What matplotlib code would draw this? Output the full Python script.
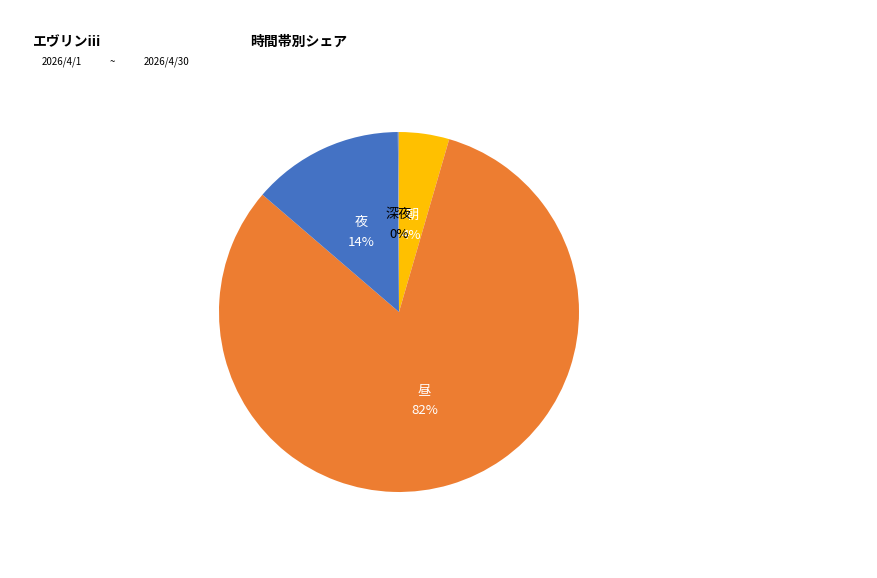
import matplotlib
matplotlib.use("Agg")
import matplotlib.pyplot as plt
import math

plt.rcParams['font.family'] = ['Noto Sans CJK JP', 'DejaVu Sans']

categories = ["朝", "昼", "夜", "深夜"]
values = [4.5, 81.8, 13.6, 0.1]
colors = ["#FFC000", "#ED7D31", "#4472C4", "#A5A5A5"]
label_colors = ["white", "white", "white", "black"]

fig = plt.figure(figsize=(8.77, 5.78), dpi=100)
ax = fig.add_axes([0.2497, 0.1488, 0.4105, 0.6228])

total = sum(values)
wedges, _ = ax.pie(values, colors=colors, startangle=90, counterclock=False,
                   radius=1.0, wedgeprops=dict(linewidth=0))
for w, cat, v, lc in zip(wedges, categories, values, label_colors):
    ang = math.radians((w.theta1 + w.theta2) / 2)
    r = 0.5
    x, y = r * math.cos(ang), r * math.sin(ang)
    pct = f"{round(v / total * 100)}%"
    ax.text(x, y + 0.041, cat, ha="center", va="center", color=lc, fontsize=9.5)
    ax.text(x, y - 0.069, pct, ha="center", va="center", color=lc, fontsize=9.5)
ax.set_xlim(-1, 1)
ax.set_ylim(-1, 1)
ax.set_aspect("auto")
ax.axis("off")

fig.text(33 / 877, 1 - 42 / 578, "エヴリンiii", fontsize=10, fontweight="bold", va="center", ha="left")
fig.text(250 / 877, 1 - 42 / 578, "時間帯別シェア", fontsize=10, fontweight="bold", va="center", ha="left")
fig.text(42 / 877, 1 - 62 / 578, "2026/4/1", fontsize=7, va="center", ha="left")
fig.text(110 / 877, 1 - 62 / 578, "~", fontsize=7, va="center", ha="left")
fig.text(144 / 877, 1 - 62 / 578, "2026/4/30", fontsize=7, va="center", ha="left")

fig.savefig("out.png", dpi=100)
